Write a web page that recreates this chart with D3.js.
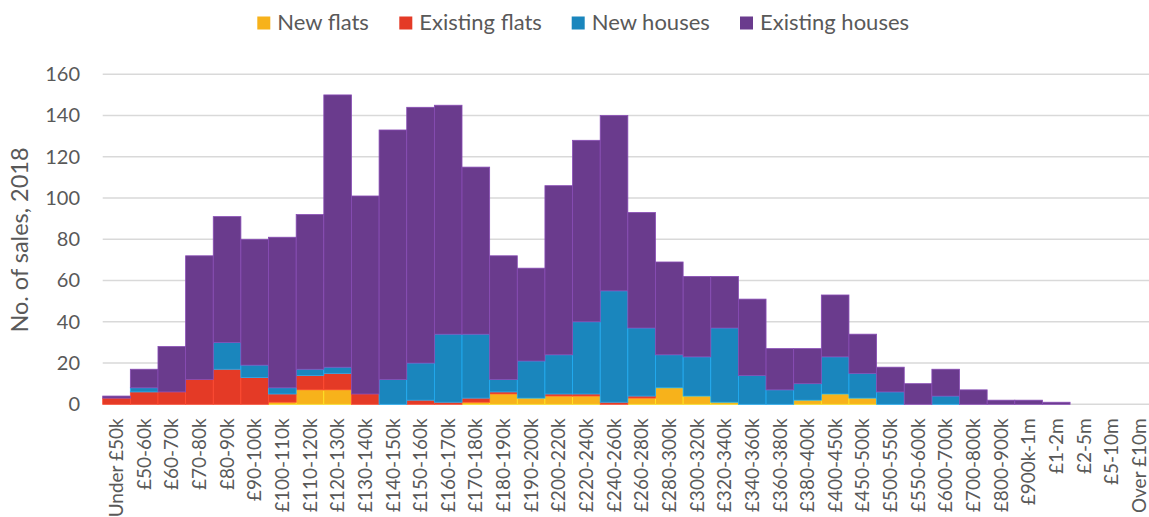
<!DOCTYPE html>
<html>
<head>
<meta charset="utf-8">
<script src="https://cdn.jsdelivr.net/npm/d3@7"></script>
<style>
  html, body { margin: 0; padding: 0; background: #fff; }
  svg { display: block; font-family: Lato, "Open Sans", sans-serif; }
</style>
</head>
<body>
<svg id="chart" width="1149" height="517"></svg>
<script>
const categories = ["Under £50k","£50-60k","£60-70k","£70-80k","£80-90k","£90-100k","£100-110k","£110-120k","£120-130k","£130-140k","£140-150k","£150-160k","£160-170k","£170-180k","£180-190k","£190-200k","£200-220k","£220-240k","£240-260k","£260-280k","£280-300k","£300-320k","£320-340k","£340-360k","£360-380k","£380-400k","£400-450k","£450-500k","£500-550k","£550-600k","£600-700k","£700-800k","£800-900k","£900k-1m","£1-2m","£2-5m","£5-10m","Over £10m"];
const newFlats       = [0,0,0,0,0,0,1,7,7,0,0,0,0,1,5,3,4,4,0,3,8,4,1,0,0,2,5,3,0,0,0,0,0,0,0,0,0,0];
const existingFlats  = [3,6,6,12,17,13,4,7,8,5,0,2,1,2,1,0,1,1,1,1,0,0,0,0,0,0,0,0,0,0,0,0,0,0,0,0,0,0];
const newHouses      = [0,2,0,0,13,6,3,3,3,0,12,18,33,31,6,18,19,35,54,33,16,19,36,14,7,8,18,12,6,0,4,0,0,0,0,0,0,0];
const existingHouses = [1,9,22,60,61,61,73,75,132,96,121,124,111,81,60,45,82,88,85,56,45,39,25,37,20,17,30,19,12,10,13,7,2,2,1,0,0,0];
const seriesNames = ["New flats","Existing flats","New houses","Existing houses"];
const seriesColors = ["#F7B21B","#E43A26","#1A86BD","#6A3B8D"];
const yTicks = [0,20,40,60,80,100,120,140,160];

(function () {
const svg = d3.select("#chart");
const pLeft = 102.7, pRight = 1153, pTop = 74.3, pBottom = 404.3;
const x = d3.scaleBand().domain(categories).range([pLeft, pRight]).padding(0);
const y = d3.scaleLinear().domain([0,160]).range([pBottom, pTop]);
const textColor = "#595959";

// gridlines
svg.append("g").selectAll("line").data(yTicks).join("line")
  .attr("x1", pLeft).attr("x2", 1149)
  .attr("y1", d => y(d)).attr("y2", d => y(d))
  .attr("stroke", "#D9D9D9").attr("stroke-width", 1.5);

// stacked data
const seriesArrays = [newFlats, existingFlats, newHouses, existingHouses];
const table = categories.map((c,i) => {
  const o = {cat: c};
  seriesNames.forEach((s,k) => o[s] = seriesArrays[k][i]);
  return o;
});
const stacked = d3.stack().keys(seriesNames)(table);

const gBars = svg.append("g");
stacked.forEach((layer, k) => {
  gBars.append("g").selectAll("rect").data(layer.filter(d => d[1] - d[0] > 0)).join("rect")
    .attr("x", d => x(d.data.cat))
    .attr("width", x.bandwidth())
    .attr("y", d => y(d[1]))
    .attr("height", d => y(d[0]) - y(d[1]))
    .attr("fill", seriesColors[k])
    .attr("stroke", d3.color(seriesColors[k]).brighter(0.7))
    .attr("stroke-width", 0.8);
});

// y axis tick labels
const yAxis = d3.axisLeft(y).tickValues(yTicks).tickSize(0).tickPadding(0);
const gy = svg.append("g").attr("transform", `translate(80,0)`).call(yAxis);
gy.select(".domain").remove();
gy.selectAll("text").attr("fill", textColor).style("font-size", "20px").style("font-family", "Lato, sans-serif");

// x axis labels
const xAxis = d3.axisBottom(x).tickSize(0).tickPadding(0);
const gx = svg.append("g").attr("transform", `translate(0,${pBottom})`).call(xAxis);
gx.select(".domain").remove();
gx.selectAll("text")
  .attr("fill", textColor)
  .style("font-size", "19px").style("font-family", "Lato, sans-serif")
  .attr("transform", "rotate(-90)")
  .attr("text-anchor", "end")
  .attr("x", -14).attr("y", 0).attr("dy", "0.35em");

// y title
svg.append("text")
  .attr("transform", `translate(28,240) rotate(-90)`)
  .attr("text-anchor", "middle")
  .attr("fill", textColor)
  .style("font-size", "23.5px")
  .text("No. of sales, 2018");

// legend
const legendX = [257.3, 399.3, 571.7, 740];
const lg = svg.append("g");
seriesNames.forEach((s,k) => {
  lg.append("rect").attr("x", legendX[k]).attr("y", 16.5).attr("width", 13).attr("height", 13).attr("fill", seriesColors[k]);
  lg.append("text").attr("x", legendX[k] + 20).attr("y", 30)
    .attr("fill", textColor).style("font-size", "22px").text(s);
});
})();
</script>
</body>
</html>
